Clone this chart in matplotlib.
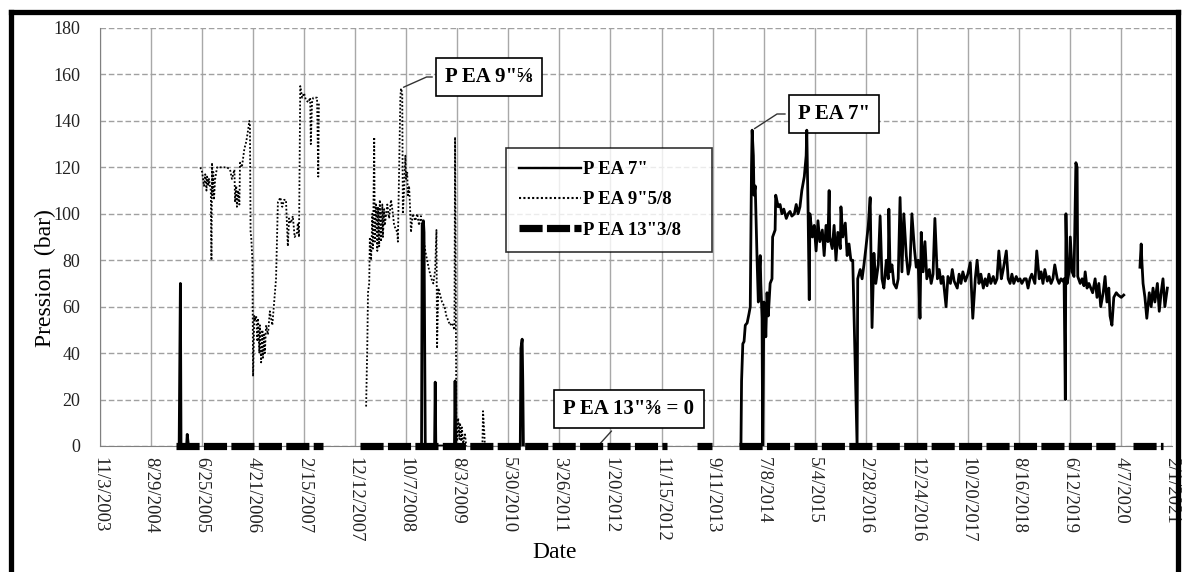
import datetime as dt
import numpy as np
import matplotlib
matplotlib.use("Agg")
import matplotlib.pyplot as plt
import matplotlib.dates as mdates
from matplotlib.lines import Line2D

plt.rcParams['font.family'] = ['Liberation Serif', 'DejaVu Serif']

# x tick labels (every 300 days in the original Excel chart)
date_ticks = ['11/3/2003', '8/29/2004', '6/25/2005', '4/21/2006', '2/15/2007',
              '12/12/2007', '10/7/2008', '8/3/2009', '5/30/2010', '3/26/2011',
              '1/20/2012', '11/15/2012', '9/11/2013', '7/8/2014', '5/4/2015',
              '2/28/2016', '12/24/2016', '10/20/2017', '8/16/2018', '6/12/2019',
              '4/7/2020', '2/1/2021']
y_ticks = [0, 20, 40, 60, 80, 100, 120, 140, 160, 180]

nan = np.nan

# P EA 7" : time in decimal years, pressure in bar (nan = no data)
t_7 = [2005.11, 2005.13, 2005.14, 2005.23, 2005.24, 2005.26, 2007.00,
       2009.01, 2009.02, 2009.04, 2009.05, 2009.07, 2009.22, 2009.23, 2009.24,
       2009.54, 2009.55, 2009.56, 2010.00,
       2010.60, 2010.61, 2010.63, 2010.64, 2010.65, 2012.00,
       2014.15, 2014.16, 2014.18, 2014.20, 2014.22, 2014.25, 2014.28, 2014.30,
       2014.32, 2014.33, 2014.35, 2014.36, 2014.38, 2014.41, 2014.43, 2014.44,
       2014.46, 2014.47, 2014.49, 2014.50, 2014.52, 2014.54, 2014.55, 2014.57,
       2014.59, 2014.62, 2014.65, 2014.66, 2014.70, 2014.71, 2014.75, 2014.78,
       2014.81, 2014.84, 2014.88, 2014.91, 2014.94, 2014.97, 2015.01, 2015.04,
       2015.07, 2015.10, 2015.13, 2015.17, 2015.20, 2015.21, 2015.23, 2015.25,
       2015.26, 2015.30, 2015.33, 2015.36, 2015.39, 2015.42, 2015.46, 2015.49,
       2015.52, 2015.55, 2015.57, 2015.58, 2015.62, 2015.65, 2015.68, 2015.71,
       2015.75, 2015.76, 2015.79, 2015.83, 2015.86, 2015.89, 2015.92, 2015.95,
       2015.99, 2016.02, 2016.03, 2016.07, 2016.10, 2016.13, 2016.16, 2016.20,
       2016.23, 2016.26, 2016.29, 2016.32, 2016.36, 2016.39, 2016.42, 2016.45,
       2016.49, 2016.52, 2016.53, 2016.55, 2016.58, 2016.61, 2016.65, 2016.68,
       2016.71, 2016.74, 2016.77, 2016.81, 2016.84, 2016.87, 2016.90, 2016.94,
       2016.97, 2017.00, 2017.03, 2017.05, 2017.08, 2017.11, 2017.14, 2017.18,
       2017.21, 2017.24, 2017.27, 2017.31, 2017.34, 2017.37, 2017.40, 2017.45,
       2017.48, 2017.52, 2017.55, 2017.58, 2017.63, 2017.66, 2017.69, 2017.72,
       2017.76, 2017.80, 2017.84, 2017.88, 2017.92, 2017.95, 2017.98, 2018.01,
       2018.05, 2018.08, 2018.11, 2018.14, 2018.17, 2018.21, 2018.24, 2018.27,
       2018.30, 2018.34, 2018.37, 2018.42, 2018.45, 2018.48, 2018.51, 2018.54,
       2018.58, 2018.61, 2018.64, 2018.67, 2018.71, 2018.74, 2018.77, 2018.80,
       2018.83, 2018.88, 2018.91, 2018.95, 2018.98, 2019.01, 2019.04, 2019.08,
       2019.11, 2019.14, 2019.17, 2019.20, 2019.24, 2019.27, 2019.30, 2019.33,
       2019.35, 2019.37, 2019.38, 2019.40, 2019.43, 2019.45, 2019.48, 2019.51,
       2019.54, 2019.56, 2019.57, 2019.61, 2019.64, 2019.67, 2019.69, 2019.72,
       2019.75, 2019.78, 2019.81, 2019.85, 2019.88, 2019.91, 2019.94, 2019.98,
       2020.01, 2020.04, 2020.07, 2020.09, 2020.12, 2020.15, 2020.19, 2020.22,
       2020.27, 2020.31, 2020.40,
       2020.57, 2020.59, 2020.60, 2020.62, 2020.65, 2020.68, 2020.72, 2020.75,
       2020.78, 2020.81, 2020.85, 2020.88, 2020.91, 2020.94, 2020.97, 2021.01]
p_7 = [0, 70, 0, 0, 5, 0, nan,
       0, 95, 97, 92, 0, 0, 27.5, 0,
       0, 28, 0, nan,
       0, 42, 46, 28, 0, nan,
       0, 28, 44, 45, 52, 53, 57, 60,
       120, 136, 125, 108, 112, 80, 62, 72,
       82, 70, 55, 0, 62, 58, 47, 66,
       56, 70, 72, 90, 93, 108, 103, 104,
       100, 102, 98, 100, 101, 99, 100, 104,
       100, 103, 110, 116, 125, 136, 103, 63,
       100, 90, 95, 84, 97, 88, 93, 82,
       95, 88, 110, 90, 85, 95, 80, 92,
       85, 103, 90, 96, 82, 87, 80, 80,
       34, 0, 72, 76, 72, 78, 85, 95,
       107, 51, 83, 70, 78, 99, 72, 68,
       80, 72, 102, 75, 78, 70, 68, 72,
       107, 75, 100, 82, 74, 78, 100, 85,
       77, 80, 55, 92, 75, 88, 72, 76,
       70, 74, 98, 72, 76, 70, 73, 60,
       73, 70, 76, 71, 68, 74, 70, 75,
       71, 74, 79, 55, 72, 80, 70, 74,
       68, 72, 69, 74, 70, 73, 70, 72,
       84, 72, 76, 84, 72, 70, 74, 70,
       73, 71, 72, 70, 72, 72, 68, 72,
       74, 70, 84, 72, 75, 70, 76, 71,
       73, 70, 72, 78, 72, 70, 72, 71,
       72, 20, 100, 70, 75, 90, 75, 73,
       122, 120, 73, 70, 72, 69, 75, 68,
       70, 68, 66, 72, 64, 70, 60, 66,
       73, 62, 68, 56, 52, 64, 66, 65,
       64, 65, nan,
       77, 87, 80, 70, 64, 55, 66, 60,
       68, 62, 70, 58, 66, 72, 60, 68]

# P EA 9"5/8
t_9 = [2005.45, 2005.48, 2005.51, 2005.53, 2005.55, 2005.56, 2005.58, 2005.59,
       2005.62, 2005.63, 2005.64, 2005.645, 2005.66, 2005.67, 2005.69, 2005.72,
       2005.80, 2005.88, 2005.93, 2005.96, 2006.00, 2006.01, 2006.03, 2006.04,
       2006.06, 2006.08, 2006.09, 2006.12, 2006.16, 2006.19, 2006.22, 2006.24,
       2006.25, 2006.26, 2006.27, 2006.29, 2006.30, 2006.32, 2006.33, 2006.35,
       2006.37, 2006.38, 2006.40, 2006.41, 2006.43, 2006.45, 2006.46, 2006.48,
       2006.49, 2006.51, 2006.54, 2006.57, 2006.61, 2006.64, 2006.67, 2006.695,
       2006.70, 2006.74, 2006.77, 2006.80, 2006.83, 2006.84, 2006.86, 2006.88,
       2006.91, 2006.94, 2006.97, 2007.01, 2007.02, 2007.04, 2007.06, 2007.09,
       2007.12, 2007.15, 2007.19, 2007.22, 2007.23, 2007.25, 2007.27, 2007.30,
       2007.33, 2007.35, 2007.36, 2007.60,
       2008.09, 2008.10,
       2008.12, 2008.14, 2008.15, 2008.17, 2008.18, 2008.20, 2008.22, 2008.23,
       2008.25, 2008.26, 2008.28, 2008.30, 2008.31, 2008.33, 2008.34, 2008.36,
       2008.38, 2008.39, 2008.41, 2008.42, 2008.46, 2008.49, 2008.52, 2008.55,
       2008.57, 2008.62, 2008.63, 2008.67, 2008.68, 2008.70, 2008.71, 2008.73,
       2008.75, 2008.76, 2008.78, 2008.79, 2008.81, 2008.83, 2008.84, 2008.87,
       2008.91, 2008.94, 2008.97, 2009.00, 2009.04, 2009.07, 2009.10, 2009.13,
       2009.17, 2009.20, 2009.23, 2009.25, 2009.26, 2009.28, 2009.31, 2009.34,
       2009.38, 2009.41, 2009.44, 2009.47, 2009.50, 2009.54, 2009.55, 2009.57,
       2009.58, 2009.60, 2009.62, 2009.63, 2009.65, 2009.66, 2009.68, 2009.71,
       2009.73, 2009.85,
       2009.99, 2010.00, 2010.02, 2010.03]
p_9 = [120, 118, 112, 117, 110, 116, 112, 115,
       110, 80, 122, 108, 118, 106, 115, 120,
       120, 120, 119, 115, 119, 105, 112, 103,
       110, 104, 122, 120, 128, 131, 136, 140,
       138, 92, 90, 80, 30, 56, 54, 56,
       45, 55, 40, 52, 36, 50, 38, 48,
       40, 52, 48, 58, 52, 62, 72, 100,
       105, 107, 103, 106, 106, 99, 86, 98,
       96, 99, 90, 92, 96, 90, 155, 150,
       152, 149, 148, 150, 130, 148, 150, 150,
       150, 116, 148, nan,
       95, nan,
       17, 45, 66, 70, 90, 80, 100, 85,
       133, 88, 104, 84, 103, 86, 106, 88,
       104, 90, 102, 95, 104, 98, 106, 100,
       95, 92, 88, 150, 154, 152, 100, 110,
       125, 115, 118, 108, 112, 100, 92, 100,
       97, 100, 95, 99, 90, 84, 80, 76,
       72, 70, 76, 93, 42, 68, 65, 62,
       60, 56, 54, 52, 53, 50, 133, 10,
       2, 12, 3, 10, 2, 8, 1, 5,
       0, nan,
       0, 15, 6, 0]

# P EA 13"3/8 : zero pressure over these recording periods
z_start = [2005.06, 2008.02, 2013.45, 2014.12, 2020.46]
z_end = [2007.43, 2012.96, 2013.69, 2020.17, 2020.94]


def to_num(years):
    out = []
    for y in years:
        y0 = int(y)
        ndays = (dt.datetime(y0 + 1, 1, 1) - dt.datetime(y0, 1, 1)).days
        out.append(mdates.date2num(dt.datetime(y0, 1, 1)) + (y - y0) * ndays)
    return np.array(out)


t_13, p_13 = [], []
for s, e in zip(z_start, z_end):
    t_13 += [s, e, e]
    p_13 += [0, 0, nan]

tick_pos = [mdates.date2num(dt.datetime.strptime(s, '%m/%d/%Y')) for s in date_ticks]

fig = plt.figure(figsize=(11.88, 5.72), dpi=100)
ax = fig.add_axes([100 / 1188, 1 - 446 / 572, 1072 / 1188, 418 / 572])

ax.plot(to_num(t_9), p_9, color='black', lw=1.3, ls=(0, (1, 1.1)), zorder=3)
ax.plot(to_num(t_7), p_7, color='black', lw=2.0, zorder=4)
ax.plot(to_num(t_13), p_13, color='black', lw=5.2, ls=(0, (3.2, 0.6)),
        zorder=5, clip_on=False)

ax.set_xlim(tick_pos[0], tick_pos[-1])
ax.set_ylim(0, 180)
ax.set_xticks(tick_pos)
ax.set_xticklabels(date_ticks, rotation=-90, fontsize=13.5, color='#222')
ax.set_yticks(y_ticks)
ax.set_yticklabels([str(v) for v in y_ticks], fontsize=13, color='#222')
ax.tick_params(axis='x', length=0, pad=8)
ax.tick_params(axis='y', length=0, pad=14)

ax.grid(axis='x', color='#a8a8a8', lw=1, ls='-')
ax.grid(axis='y', color='#a0a0a0', lw=1, ls=(0, (4, 2)))
ax.set_axisbelow(True)
for side in ['top', 'right']:
    ax.spines[side].set_visible(False)
for side in ['left', 'bottom']:
    ax.spines[side].set_color('#808080')

fig.text(45 / 1188, 1 - 278 / 572, 'Pression  (bar)', rotation=90,
         ha='center', va='center', fontsize=17)
fig.text(555 / 1188, 1 - 553 / 572, 'Date', ha='center', va='center', fontsize=17)

# legend
handles = [Line2D([], [], color='black', lw=1.7),
           Line2D([], [], color='black', lw=1.5, ls=(0, (1, 1.1))),
           Line2D([], [], color='black', lw=5.2, ls=(0, (3.2, 0.6)))]
leg = fig.legend(handles, ['P EA 7"', 'P EA 9"5/8', 'P EA 13"3/8'],
                 loc='upper left',
                 bbox_to_anchor=(506 / 1188, 1 - 248 / 572, 206 / 1188, 100 / 572),
                 mode='expand', prop={'weight': 'bold', 'size': 13.5},
                 frameon=True, fancybox=False, edgecolor='black',
                 handlelength=3.3, handletextpad=0.1, labelspacing=0.7,
                 borderpad=0.7, borderaxespad=0)
leg.get_frame().set_linewidth(1.2)

box = dict(boxstyle='square,pad=0.45', fc='white', ec='black', lw=1.2)
ax.annotate('P EA 9"⅝', xy=(to_num([2008.68])[0], 154),
            xytext=(489 / 1188, 1 - 77 / 572), textcoords='figure fraction',
            ha='center', va='center', fontsize=15, fontweight='bold', bbox=box,
            arrowprops=dict(arrowstyle='-', color='#333', lw=1,
                            relpos=(0, 0.5),
                            connectionstyle='angle,angleA=0,angleB=24,rad=0'))
ax.annotate('P EA 7"', xy=(to_num([2014.33])[0], 136),
            xytext=(834 / 1188, 1 - 114 / 572), textcoords='figure fraction',
            ha='center', va='center', fontsize=15, fontweight='bold', bbox=box,
            arrowprops=dict(arrowstyle='-', color='#333', lw=1,
                            relpos=(0, 0.5),
                            connectionstyle='angle,angleA=0,angleB=33,rad=0'))
ax.annotate('P EA 13"⅜ = 0', xy=(to_num([2011.85])[0], 0),
            xytext=(629 / 1188, 1 - 409 / 572), textcoords='figure fraction',
            ha='center', va='center', fontsize=15, fontweight='bold', bbox=box,
            arrowprops=dict(arrowstyle='-', color='#333', lw=1,
                            relpos=(0.45, 0)))

# black frame around the picture
fr = dict(color='black', lw=3.8, transform=fig.transFigure, solid_capstyle='projecting')
fig.add_artist(Line2D([11 / 1188, 11 / 1188], [0, 1 - 12 / 572], **fr))
fig.add_artist(Line2D([11 / 1188, 1178 / 1188], [1 - 12 / 572, 1 - 12 / 572], **fr))
fig.add_artist(Line2D([1178 / 1188, 1178 / 1188], [0, 1 - 12 / 572], **fr))

fig.savefig('out.png', dpi=100)
